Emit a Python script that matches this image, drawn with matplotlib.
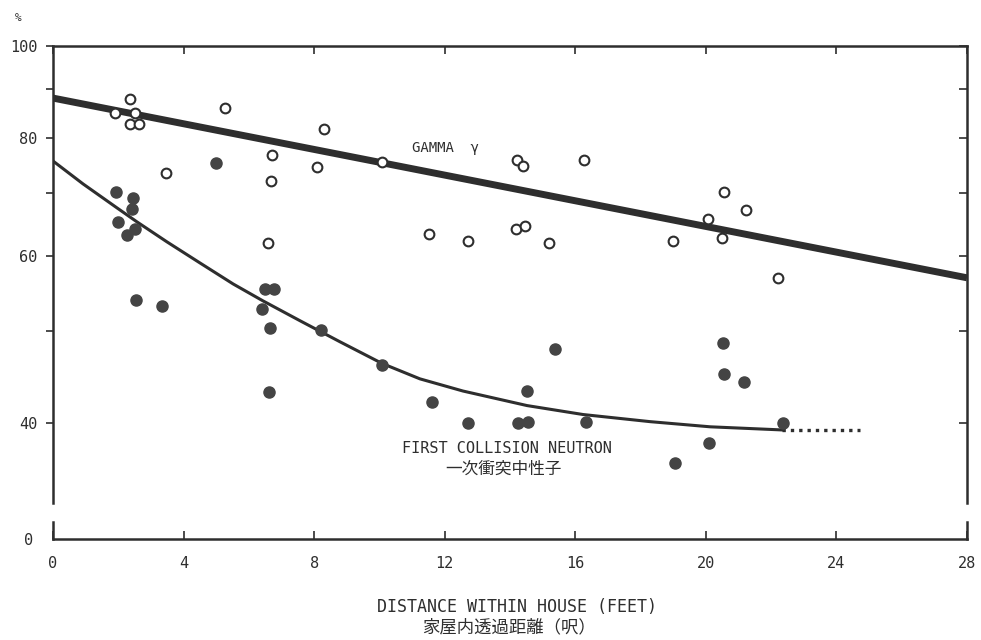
import matplotlib
matplotlib.use('Agg')
import matplotlib.pyplot as plt

plt.rcParams['font.family'] = ['DejaVu Sans Mono', 'Noto Sans CJK JP']

# open circles: gamma
gamma_x = [1.9, 2.36, 2.5, 2.36, 2.63, 3.46, 5.27, 6.71, 6.68, 6.59, 8.09, 8.3,
           10.08, 11.52, 12.71, 14.2, 14.4, 14.18, 14.46, 15.2, 16.27, 18.99,
           20.07, 20.56, 20.5, 21.23, 22.2]
gamma_y = [85.0, 87.9, 85.0, 82.7, 82.7, 73.4, 86.0, 76.7, 72.0, 61.9, 74.5, 81.7,
           75.4, 63.3, 62.3, 75.8, 74.7, 64.1, 64.5, 61.9, 75.8, 62.3,
           65.6, 70.1, 62.7, 67.1, 56.9]

# filled circles: first collision neutron
neut_x = [4.99, 1.93, 2.45, 2.42, 1.99, 2.27, 2.51, 2.54, 3.34, 6.4, 6.5, 6.77,
          6.65, 8.21, 6.62, 10.08, 11.61, 12.71, 14.25, 14.55, 14.52, 15.38,
          16.33, 20.53, 20.56, 21.17, 22.37, 20.1, 19.06]
neut_y = [75.2, 70.1, 69.1, 67.3, 65.2, 63.1, 64.1, 53.9, 53.1, 52.7, 55.4, 55.4,
          50.4, 50.1, 43.1, 46.0, 42.1, 40.0, 40.0, 40.1, 43.2, 47.9,
          40.1, 48.6, 45.0, 44.2, 40.0, 38.1, 36.3]

# fitted lines as drawn in the figure
gamma_fit_x = [0, 28]
gamma_fit_y = [88.1, 56.9]
neut_fit_x = [0, 0.92, 1.96, 2.57, 3.49, 4.5, 5.52, 6.43, 7.57, 8.79, 10.08,
              11.24, 12.56, 14.52, 16.24, 18.29, 20.13, 22.33]
neut_fit_y = [75.6, 71.5, 67.45, 65.2, 62.1, 59.0, 56.05, 53.8, 51.25, 48.7, 46.2,
              44.5, 43.2, 41.7, 40.8, 40.1, 39.6, 39.3]
neut_ext_x = [22.33, 24.72]
neut_ext_y = [39.3, 39.3]

y_ticks = [40, 50, 60, 70, 80, 90, 100]
y_labels = ['40', '', '60', '', '80', '', '100']
x_ticks = [0, 4, 8, 12, 16, 20, 24, 28]

W, H = 981, 640
ink = '#2e2e2e'
fig = plt.figure(figsize=(W / 100, H / 100), dpi=100)

ax = fig.add_axes([53 / W, 1 - 503 / H, 914 / W, 457 / H])
ax.set_yscale('log')
ax.set_xlim(0, 28)
ax.set_ylim(32.9, 100)

ax.plot(gamma_fit_x, gamma_fit_y, color=ink, lw=5, solid_capstyle='butt')
ax.plot(neut_fit_x, neut_fit_y, color=ink, lw=2.2, solid_joinstyle='round')
ax.plot(neut_ext_x, neut_ext_y, color=ink, lw=2.4, ls=(0, (1, 1.5)))
ax.plot(gamma_x, gamma_y, 'o', ms=7, mfc='white', mec=ink, mew=1.5)
ax.plot(neut_x, neut_y, 'o', ms=8, mfc='#444444', mec='#444444')

ax.text(11.0, 78.0, 'GAMMA  γ', fontsize=10, color=ink, va='center')
ax.text(13.9, 37.6, 'FIRST COLLISION NEUTRON', fontsize=11, color=ink,
        ha='center', va='center')
ax.text(13.8, 35.75, '一次衝突中性子', fontsize=12, color=ink,
        ha='center', va='center', family=['Noto Sans CJK JP'])

ax.set_yticks(y_ticks)
ax.set_yticklabels(y_labels)
ax.yaxis.set_minor_locator(matplotlib.ticker.NullLocator())
ax.tick_params(axis='y', direction='out', length=5, width=1.2, pad=6,
               labelsize=11, colors=ink)
ax.set_xticks(x_ticks)
ax.tick_params(axis='x', direction='in', top=True, bottom=False,
               labelbottom=False, length=6, width=1.2, colors=ink)
ax.spines['bottom'].set_visible(False)
for s in ['top', 'left', 'right']:
    ax.spines[s].set_linewidth(1.8)
    ax.spines[s].set_color(ink)

# right side ticks point inward
axr = ax.twinx()
axr.set_yscale('log')
axr.set_ylim(32.9, 100)
axr.set_yticks(y_ticks)
axr.yaxis.set_minor_locator(matplotlib.ticker.NullLocator())
axr.tick_params(axis='y', direction='in', length=6, width=1.2,
                labelright=False, colors=ink)
for s in axr.spines.values():
    s.set_visible(False)

# broken bottom strip holding the zero
axb = fig.add_axes([53 / W, 1 - 539 / H, 914 / W, 17 / H])
axb.set_xlim(0, 28)
axb.set_ylim(0, 1)
axb.set_xticks(x_ticks)
axb.set_yticks([0])
axb.set_yticklabels(['0'])
axb.tick_params(axis='x', direction='in', length=6, width=1.2, pad=12,
                labelsize=11, colors=ink)
axb.tick_params(axis='y', length=0, pad=14, labelsize=11, colors=ink)
axb.spines['top'].set_visible(False)
for s in ['bottom', 'left', 'right']:
    axb.spines[s].set_linewidth(1.8)
    axb.spines[s].set_color(ink)

fig.text(18 / W, 1 - 18 / H, '%', fontsize=8, color=ink, ha='center', va='center')
fig.text(517 / W, 1 - 607 / H, 'DISTANCE WITHIN HOUSE (FEET)', fontsize=12,
         color=ink, ha='center', va='center')
fig.text(509 / W, 1 - 627 / H, '家屋内透過距離（呎）', fontsize=12.5, color=ink,
         ha='center', va='center', family=['Noto Sans CJK JP'])

fig.savefig('out.png', dpi=100)
